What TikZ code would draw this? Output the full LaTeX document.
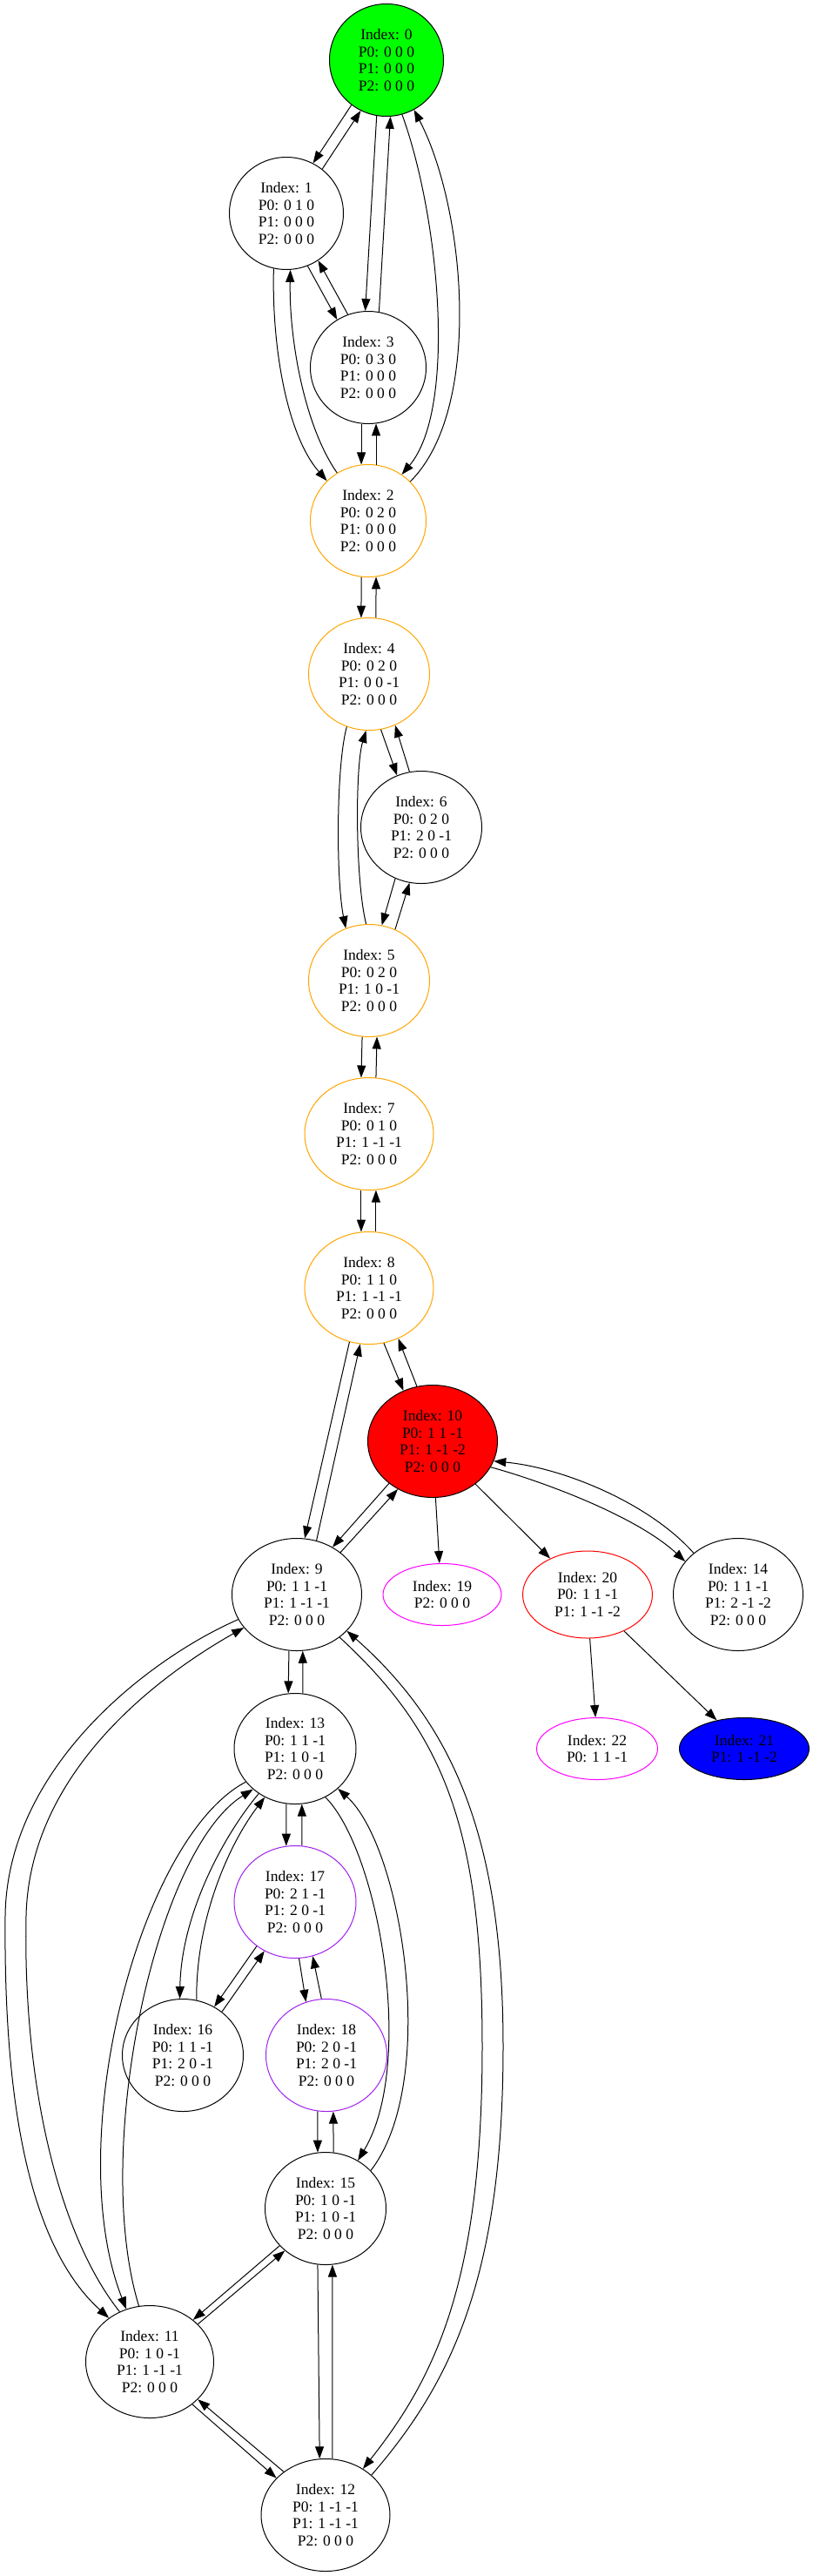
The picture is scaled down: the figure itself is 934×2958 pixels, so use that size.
\documentclass[tikz,border=0pt]{standalone}
\usepackage{fontspec}
\setmainfont{Liberation Serif}
\usetikzlibrary{shapes.geometric,arrows.meta}
\definecolor{gvgreen}{RGB}{0,255,0}
\definecolor{gvorange}{RGB}{255,165,0}
\definecolor{gvmagenta}{RGB}{255,0,255}
\definecolor{gvpurple}{RGB}{160,32,240}
\definecolor{gvred}{RGB}{255,0,0}
\definecolor{gvblue}{RGB}{0,0,255}
\begin{document}
\begin{tikzpicture}[x=1pt,y=-1pt,
  st/.style={ellipse, draw=black, line width=1pt, inner sep=0pt, align=center,
    font=\fontsize{17.5}{19.8}\selectfont, minimum height=129pt},
  two/.style={minimum height=71pt},
  org/.style={draw=gvorange},
  mag/.style={draw=gvmagenta},
  pur/.style={draw=gvpurple},
  ed/.style={line width=1pt, -{Triangle[length=14pt,width=10pt]}}]
\useasboundingbox (0,0) rectangle (934,2958);
\node[st, fill=gvgreen, minimum width=131pt] (n0) at (444,69) {Index: 0\\P0: 0 0 0\\P1: 0 0 0\\P2: 0 0 0};
\node[st, minimum width=131pt] (n1) at (329,245) {Index: 1\\P0: 0 1 0\\P1: 0 0 0\\P2: 0 0 0};
\node[st, minimum width=133pt] (n3) at (423,422) {Index: 3\\P0: 0 3 0\\P1: 0 0 0\\P2: 0 0 0};
\node[st, org, minimum width=133pt] (n2) at (423,598) {Index: 2\\P0: 0 2 0\\P1: 0 0 0\\P2: 0 0 0};
\node[st, org, minimum width=139pt] (n4) at (424,774) {Index: 4\\P0: 0 2 0\\P1: 0 0 -1\\P2: 0 0 0};
\node[st, minimum width=139pt] (n6) at (484,950) {Index: 6\\P0: 0 2 0\\P1: 2 0 -1\\P2: 0 0 0};
\node[st, org, minimum width=139pt] (n5) at (424,1126) {Index: 5\\P0: 0 2 0\\P1: 1 0 -1\\P2: 0 0 0};
\node[st, org, minimum width=148pt] (n7) at (424,1302) {Index: 7\\P0: 0 1 0\\P1: 1 -1 -1\\P2: 0 0 0};
\node[st, org, minimum width=148pt] (n8) at (424,1479) {Index: 8\\P0: 1 1 0\\P1: 1 -1 -1\\P2: 0 0 0};
\node[st, fill=gvred, minimum width=149pt] (n10) at (497,1655) {Index: 10\\P0: 1 1 -1\\P1: 1 -1 -2\\P2: 0 0 0};
\node[st, minimum width=149pt] (n9) at (341,1831) {Index: 9\\P0: 1 1 -1\\P1: 1 -1 -1\\P2: 0 0 0};
\node[st, two, mag, minimum width=136pt] (n19) at (508,1831) {Index: 19\\P2: 0 0 0};
\node[st, draw=gvred, minimum width=149pt, minimum height=100pt] (n20) at (675,1831) {Index: 20\\P0: 1 1 -1\\P1: 1 -1 -2};
\node[st, minimum width=149pt] (n14) at (848,1831) {Index: 14\\P0: 1 1 -1\\P1: 2 -1 -2\\P2: 0 0 0};
\node[st, minimum width=140pt, minimum height=127pt] (n13) at (339,2008) {Index: 13\\P0: 1 1 -1\\P1: 1 0 -1\\P2: 0 0 0};
\node[st, two, mag, minimum width=139pt] (n22) at (686,2008) {Index: 22\\P0: 1 1 -1};
\node[st, two, fill=gvblue, minimum width=149pt] (n21) at (855,2008) {Index: 21\\P1: 1 -1 -2};
\node[st, pur, minimum width=140pt] (n17) at (339,2184) {Index: 17\\P0: 2 1 -1\\P1: 2 0 -1\\P2: 0 0 0};
\node[st, minimum width=139pt] (n16) at (210,2360) {Index: 16\\P0: 1 1 -1\\P1: 2 0 -1\\P2: 0 0 0};
\node[st, pur, minimum width=139pt] (n18) at (375,2360) {Index: 18\\P0: 2 0 -1\\P1: 2 0 -1\\P2: 0 0 0};
\node[st, minimum width=139pt] (n15) at (374,2536) {Index: 15\\P0: 1 0 -1\\P1: 1 0 -1\\P2: 0 0 0};
\node[st, minimum width=147pt] (n11) at (172,2712) {Index: 11\\P0: 1 0 -1\\P1: 1 -1 -1\\P2: 0 0 0};
\node[st, minimum width=148pt] (n12) at (374,2888) {Index: 12\\P0: 1 -1 -1\\P1: 1 -1 -1\\P2: 0 0 0};
% straight edges
\draw[ed] (n0.232) -- (n1.62);
\draw[ed] (n1.51) -- (n0.243);
\draw[ed] (n0.260) -- (n3.93);
\draw[ed] (n3.79) -- (n0.274);
\draw[ed] (n1.292) -- (n3.123);
\draw[ed] (n3.111) -- (n1.304);
\draw[ed] (n3.263) -- (n2.97);
\draw[ed] (n2.82) -- (n3.278);
\draw[ed] (n2.263) -- (n4.98);
\draw[ed] (n4.83) -- (n2.278);
\draw[ed] (n4.282) -- (n6.115);
\draw[ed] (n6.102) -- (n4.297);
\draw[ed] (n6.243) -- (n5.77);
\draw[ed] (n5.63) -- (n6.258);
\draw[ed] (n5.263) -- (n7.98);
\draw[ed] (n7.83) -- (n5.278);
\draw[ed] (n7.262) -- (n8.98);
\draw[ed] (n8.83) -- (n7.277);
\draw[ed] (n8.250) -- (n9.82);
\draw[ed] (n9.70) -- (n8.261);
\draw[ed] (n8.285) -- (n10.120);
\draw[ed] (n10.106) -- (n8.300);
\draw[ed] (n10.224) -- (n9.53);
\draw[ed] (n9.44) -- (n10.234);
\draw[ed] (n10.273) -- (n19.95);
\draw[ed] (n10.315) -- (n20.136);
\draw[ed] (n20.273) -- (n22.93);
\draw[ed] (n20.315) -- (n21.134);
\draw[ed] (n9.262) -- (n13.97);
\draw[ed] (n13.82) -- (n9.276);
\draw[ed] (n13.261) -- (n17.99);
\draw[ed] (n17.83) -- (n13.277);
\draw[ed] (n17.229) -- (n16.57);
\draw[ed] (n16.48) -- (n17.238);
\draw[ed] (n17.274) -- (n18.111);
\draw[ed] (n18.95) -- (n17.288);
\draw[ed] (n18.261) -- (n15.98);
\draw[ed] (n15.82) -- (n18.277);
\draw[ed] (n15.219) -- (n11.44);
\draw[ed] (n11.38) -- (n15.226);
\draw[ed] (n15.262) -- (n12.96);
\draw[ed] (n12.83) -- (n15.277);
\draw[ed] (n11.315) -- (n12.143);
\draw[ed] (n12.134) -- (n11.322);
% curved edges
\draw[ed] (n0.286) .. controls (505,250) and (525,470) .. (n2.54);
\draw[ed] (n2.43) .. controls (555,470) and (535,240) .. (n0.299);
\draw[ed] (n1.257) .. controls (312,400) and (330,500) .. (n2.136);
\draw[ed] (n2.123) .. controls (350,490) and (332,390) .. (n1.274);
\draw[ed] (n4.247) .. controls (386,880) and (386,1010) .. (n5.114);
\draw[ed] (n5.93) .. controls (408,1010) and (408,880) .. (n4.267);
\draw[ed] (n10.336) .. controls (620,1700) and (730,1740) .. (n14.148);
\draw[ed] (n14.137) .. controls (745,1725) and (645,1685) .. (n10.342);
\draw[ed] (n9.203) .. controls (170,1905) and (8,2030) .. (6,2200) .. controls (4,2420) and (35,2580) .. (n11.133);
\draw[ed] (n11.121) .. controls (70,2570) and (26,2400) .. (30,2200) .. controls (34,2030) and (190,1920) .. (n9.212);
\draw[ed] (n13.214) .. controls (160,2110) and (70,2460) .. (n11.114);
\draw[ed] (n11.101) .. controls (105,2470) and (178,2125) .. (n13.224);
\draw[ed] (n13.231) .. controls (255,2110) and (208,2200) .. (n16.93);
\draw[ed] (n16.76) .. controls (225,2200) and (265,2115) .. (n13.238);
\draw[ed] (n13.302) .. controls (435,2125) and (478,2370) .. (n15.56);
\draw[ed] (n15.40) .. controls (505,2390) and (462,2120) .. (n13.317);
\draw[ed] (n9.315) .. controls (510,1990) and (554,2100) .. (554,2350) .. controls (554,2620) and (500,2730) .. (n12.51);
\draw[ed] (n12.41) .. controls (515,2740) and (578,2620) .. (578,2350) .. controls (578,2110) and (520,1980) .. (n9.324);
\end{tikzpicture}
\end{document}
